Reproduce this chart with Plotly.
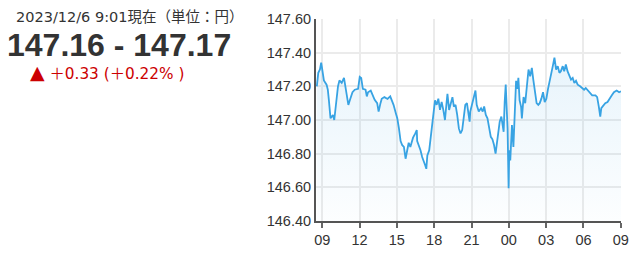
import pandas as pd
import plotly.graph_objects as go

# ---- data (minutes after 2023-12-05 09:00, price) ----
minutes = [-26, -19, -11, -5, -1, 3, 8, 21, 27, 32, 36, 40, 46, 52, 58, 63, 71, 76, 83, 94,
           105, 110, 118, 126, 134, 146, 157, 173, 181, 188, 196, 209, 215, 221, 234, 245, 253, 265, 272, 281,
           287, 300, 315, 328, 334, 344, 355, 362, 370, 378, 386, 394, 402, 409, 417, 425, 438, 449, 456, 458,
           466, 474, 482, 489, 497, 502, 507, 516, 521, 526, 532, 536, 544, 552, 560, 568, 576, 584, 592, 600,
           604, 612, 620, 628, 635, 643, 651, 659, 667, 675, 682, 690, 698, 703, 711, 714, 723, 729, 739, 745,
           755, 766, 774, 781, 789, 797, 805, 813, 821, 828, 836, 841, 849, 856, 864, 871, 875, 880, 885, 889,
           894, 899, 902, 907, 915, 922, 930, 935, 941, 946, 952, 959, 963, 971, 979, 987, 995, 1003, 1011, 1018,
           1026, 1034, 1042, 1049, 1057, 1065, 1073, 1081, 1089, 1096, 1104, 1112, 1120, 1128, 1136, 1144, 1151, 1160, 1167, 1175,
           1183, 1191, 1200, 1208, 1216, 1224, 1232, 1244, 1255, 1263, 1271, 1282, 1291, 1302, 1318, 1326, 1334, 1341, 1346, 1354,
           1365, 1376, 1385, 1396, 1407, 1420, 1432, 1441]
prices = [147.20, 147.28, 147.30, 147.34, 147.31, 147.27, 147.235, 147.21, 147.18, 147.12, 147.04, 147.01, 147.02, 147.03, 147.00, 147.05, 147.155, 147.20, 147.235, 147.22,
          147.25, 147.21, 147.155, 147.09, 147.12, 147.165, 147.18, 147.185, 147.256, 147.25, 147.185, 147.18, 147.14, 147.165, 147.175, 147.14, 147.12, 147.10, 147.05, 147.10,
          147.126, 147.136, 147.125, 147.14, 147.125, 147.09, 147.04, 147.01, 146.95, 146.875, 146.85, 146.84, 146.77, 146.82, 146.865, 146.84, 146.895, 146.92, 146.94, 146.875,
          146.85, 146.82, 146.78, 146.76, 146.73, 146.71, 146.79, 146.82, 146.875, 146.93, 147.01, 147.05, 147.117, 147.09, 147.127, 147.06, 147.107, 147.06, 147.00, 147.107,
          147.155, 147.06, 147.107, 147.136, 147.08, 147.09, 147.03, 146.95, 146.92, 146.94, 147.01, 147.09, 147.10, 147.06, 146.99, 147.05, 147.09, 147.117, 147.175, 147.09,
          147.05, 147.07, 147.05, 147.08, 147.03, 147.01, 146.94, 146.90, 146.885, 146.855, 146.80, 146.84, 146.915, 146.99, 147.02, 146.97, 146.93, 147.107, 147.21, 147.09,
          146.95, 146.595, 146.82, 146.76, 146.97, 146.84, 147.127, 147.233, 147.185, 147.25, 147.117, 147.08, 147.01, 147.136, 147.10, 147.194, 147.30, 147.26, 147.31, 147.24,
          147.175, 147.10, 147.09, 147.10, 147.127, 147.165, 147.107, 147.127, 147.185, 147.233, 147.29, 147.32, 147.37, 147.30, 147.32, 147.28, 147.29, 147.32, 147.29, 147.33,
          147.29, 147.26, 147.24, 147.25, 147.22, 147.233, 147.21, 147.20, 147.19, 147.18, 147.19, 147.175, 147.165, 147.146, 147.146, 147.136, 147.08, 147.02, 147.07, 147.08,
          147.10, 147.107, 147.127, 147.146, 147.165, 147.175, 147.165, 147.17]

base_time = pd.Timestamp("2023-12-05 09:00")
x_start = pd.Timestamp("2023-12-05 08:30")
x_end = pd.Timestamp("2023-12-06 09:01")
y_range = [146.40, 147.60]
y_ticks = [146.40, 146.60, 146.80, 147.00, 147.20, 147.40, 147.60]

title_text = "2023/12/6 9:01現在（単位：円）"
price_text = "147.16 - 147.17"
change_mark = "▲"
change_text = "＋0.33 (＋0.22% )"

times = [base_time + pd.Timedelta(minutes=m) for m in minutes]

W, H = 640, 259
ML, MR, MT, MB = 316, 11, 15, 37
PW, PH = W - ML - MR, H - MT - MB

def px(x):
    return (x - ML) / PW

def py(y):
    return 1 - (y - MT) / PH

line_color = "#38a3e3"
font_fam = "Liberation Sans, Arial, Noto Sans CJK JP, sans-serif"
wide_fam = "DejaVu Sans, Noto Sans CJK JP, sans-serif"

fig = go.Figure()
fig.add_trace(go.Scatter(x=times, y=[y_range[0]] * len(times), mode="lines",
                         line=dict(width=0), hoverinfo="skip", showlegend=False))
fig.add_trace(go.Scatter(
    x=times, y=prices, mode="lines",
    line=dict(color=line_color, width=1.8),
    fill="tonexty",
    fillgradient=dict(type="vertical", start=y_range[0], stop=147.40,
                      colorscale=[[0, "rgba(56,163,227,0.01)"], [1, "rgba(56,163,227,0.12)"]]),
    hoverinfo="skip", showlegend=False))

fig.update_layout(
    width=W, height=H,
    margin=dict(l=ML, r=MR, t=MT, b=MB, pad=0),
    paper_bgcolor="white", plot_bgcolor="white",
    font=dict(family=font_fam, color="#333", size=14.5),
    xaxis=dict(range=[x_start, x_end], type="date",
               tickformat="%H", dtick=3 * 3600 * 1000,
               tick0=base_time,
               showgrid=True, gridcolor="#ebebeb", gridwidth=1.5,
               showline=True, linecolor="#555", linewidth=2,
               ticks="outside", ticklen=5, tickwidth=1.5, tickcolor="#666",
               tickfont=dict(size=14.5, color="#333"),
               zeroline=False, fixedrange=True),
    yaxis=dict(range=y_range, tickvals=y_ticks,
               ticktext=[f"{v:.2f}" for v in y_ticks],
               showgrid=True, gridcolor="#ebebeb", gridwidth=1.5,
               showline=True, linecolor="#555", linewidth=2,
               ticks="", ticklabelstandoff=0,
               tickfont=dict(size=14.5, color="#333"),
               zeroline=False, fixedrange=True),
    annotations=[
        dict(text=title_text, xref="paper", yref="paper", x=px(6), y=py(13),
             xanchor="left", yanchor="middle", showarrow=False,
             font=dict(size=14.5, color="#333", family=wide_fam)),
        dict(text=f"<b>{price_text}</b>", xref="paper", yref="paper", x=px(-3), y=py(42),
             xanchor="left", yanchor="middle", showarrow=False,
             font=dict(size=32, color="#333", family=font_fam)),
        dict(text=f"<span style='font-size:19px'>{change_mark}</span> {change_text}",
             xref="paper", yref="paper", x=px(20), y=py(69),
             xanchor="left", yanchor="middle", showarrow=False,
             font=dict(size=15.3, color="#cc0000", family=wide_fam)),
    ],
)

fig.write_html("out.html", config={"displayModeBar": False})
